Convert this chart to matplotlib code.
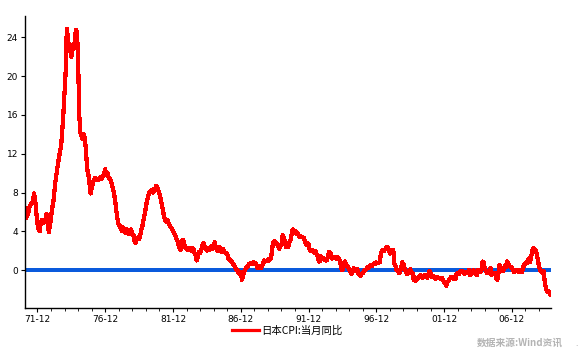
import numpy as np
import matplotlib
matplotlib.use('Agg')
import matplotlib.pyplot as plt

plt.rcParams['font.family'] = ['Noto Sans CJK SC', 'DejaVu Sans']

# Japan CPI yoy (%), monthly, Jan 1971 - Oct 2009
cpi_1971 = [6.4, 5.4, 5.6, 6.0, 6.5, 6.8, 6.9, 7.0, 7.9, 7.2, 6.0, 4.8]
cpi_1972 = [4.2, 4.0, 4.9, 5.2, 5.1, 4.9, 5.0, 5.8, 5.2, 3.9, 4.5, 5.4]
cpi_1973 = [6.4, 6.9, 8.0, 9.2, 10.0, 10.8, 11.6, 12.2, 12.8, 14.4, 16.2, 18.4]
cpi_1974 = [20.5, 24.9, 24.0, 22.6, 23.2, 22.0, 23.0, 22.8, 23.5, 24.8, 24.5, 21.8]
cpi_1975 = [16.0, 14.2, 13.8, 13.5, 14.0, 13.6, 12.3, 10.4, 10.0, 9.0, 7.9, 8.4]
cpi_1976 = [8.9, 9.3, 9.5, 9.3, 9.4, 9.3, 9.5, 9.6, 9.4, 9.7, 9.9, 10.4]
cpi_1977 = [9.8, 10.0, 9.6, 9.4, 9.2, 8.8, 8.4, 7.8, 7.0, 6.0, 5.2, 4.6]
cpi_1978 = [4.6, 4.2, 4.0, 4.4, 4.1, 3.8, 4.2, 4.0, 3.7, 3.9, 4.2, 3.7]
cpi_1979 = [3.6, 3.0, 2.8, 3.2, 3.4, 3.2, 3.6, 4.2, 4.6, 5.2, 5.8, 6.5]
cpi_1980 = [7.2, 7.6, 8.0, 8.1, 8.3, 8.0, 8.4, 8.2, 8.7, 8.6, 8.2, 7.9]
cpi_1981 = [7.4, 6.8, 6.2, 5.6, 5.2, 5.0, 5.2, 4.9, 4.6, 4.4, 4.3, 4.0]
cpi_1982 = [3.8, 3.6, 3.2, 3.0, 2.6, 2.2, 2.1, 3.0, 3.1, 2.6, 2.3, 2.2]
cpi_1983 = [2.1, 2.3, 2.2, 2.0, 2.3, 2.2, 1.8, 1.5, 1.0, 1.3, 1.9, 1.8]
cpi_1984 = [2.1, 2.6, 2.8, 2.4, 2.3, 2.0, 2.2, 2.1, 2.4, 2.5, 2.2, 2.6]
cpi_1985 = [2.9, 2.3, 2.0, 2.1, 2.4, 2.1, 1.9, 2.2, 2.0, 1.8, 1.8, 1.7]
cpi_1986 = [1.2, 1.1, 0.9, 0.9, 0.7, 0.5, 0.3, 0.1, 0.0, -0.3, -0.4, -0.2]
cpi_1987 = [-1.0, -0.6, -0.2, 0.1, 0.3, 0.3, 0.6, 0.7, 0.7, 0.6, 0.8, 0.8]
cpi_1988 = [0.7, 0.5, 0.2, 0.3, 0.4, 0.2, 0.5, 0.8, 1.0, 0.9, 1.0, 1.1]
cpi_1989 = [1.0, 1.1, 1.4, 2.4, 2.9, 3.0, 2.9, 2.7, 2.6, 2.2, 2.5, 2.6]
cpi_1990 = [3.6, 3.4, 3.0, 2.4, 2.5, 2.4, 2.9, 3.1, 3.7, 4.2, 3.9, 3.8]
cpi_1991 = [4.0, 3.7, 3.7, 3.4, 3.5, 3.4, 3.4, 3.3, 2.9, 2.6, 2.8, 2.7]
cpi_1992 = [2.1, 2.0, 2.1, 1.9, 1.8, 2.0, 1.7, 1.5, 0.9, 0.9, 1.4, 1.3]
cpi_1993 = [1.2, 1.2, 1.0, 1.0, 1.3, 1.9, 1.8, 1.6, 1.2, 1.3, 1.4, 1.2]
cpi_1994 = [1.2, 1.3, 1.2, 0.8, 0.1, 0.0, 0.5, 0.9, 0.6, 0.4, 0.3, 0.1]
cpi_1995 = [-0.2, -0.4, -0.1, 0.2, 0.0, -0.1, 0.1, -0.3, -0.5, -0.6, -0.4, -0.3]
cpi_1996 = [-0.1, 0.0, 0.1, 0.3, 0.2, 0.4, 0.5, 0.4, 0.6, 0.7, 0.6, 0.8]
cpi_1997 = [0.7, 0.8, 0.8, 1.7, 2.0, 2.1, 2.0, 2.2, 2.4, 2.4, 2.1, 1.7]
cpi_1998 = [1.8, 1.9, 2.1, 0.7, 0.4, 0.0, -0.1, -0.3, -0.2, 0.3, 0.8, 0.6]
cpi_1999 = [0.2, -0.1, -0.4, -0.1, -0.3, 0.1, -0.2, -0.3, -1.0, -0.7, -1.1, -0.9]
cpi_2000 = [-0.8, -0.6, -0.5, -0.7, -0.8, -0.6, -0.5, -0.6, -0.8, -0.5, -0.1, -0.3]
cpi_2001 = [-0.7, -0.6, -0.7, -0.9, -0.8, -0.7, -0.8, -0.8, -0.9, -0.8, -1.0, -1.2]
cpi_2002 = [-1.4, -1.6, -1.2, -1.1, -0.9, -0.7, -0.8, -0.9, -0.7, -0.9, -0.4, -0.3]
cpi_2003 = [-0.4, -0.2, -0.1, -0.1, -0.2, -0.4, -0.2, -0.3, -0.2, 0.0, -0.5, -0.4]
cpi_2004 = [-0.3, 0.0, -0.1, -0.4, -0.5, 0.0, -0.1, -0.2, 0.0, 0.9, 0.8, 0.2]
cpi_2005 = [-0.1, -0.3, -0.2, 0.0, 0.2, -0.5, -0.3, -0.3, -0.3, -0.8, -1.0, -0.4]
cpi_2006 = [0.5, -0.1, 0.2, -0.1, 0.1, 0.5, 0.3, 0.9, 0.6, 0.4, 0.3, 0.3]
cpi_2007 = [0.0, -0.2, -0.1, 0.0, 0.0, -0.2, 0.0, -0.2, -0.2, 0.3, 0.6, 0.7]
cpi_2008 = [0.7, 1.0, 1.2, 0.8, 1.3, 2.0, 2.3, 2.1, 2.1, 1.7, 1.0, 0.4]
cpi_2009 = [0.0, -0.1, -0.3, -0.1, -1.1, -1.8, -2.2, -2.2, -2.2, -2.5]

cpi = np.array(cpi_1971 + cpi_1972 + cpi_1973 + cpi_1974 + cpi_1975 + cpi_1976
               + cpi_1977 + cpi_1978 + cpi_1979 + cpi_1980 + cpi_1981 + cpi_1982
               + cpi_1983 + cpi_1984 + cpi_1985 + cpi_1986 + cpi_1987 + cpi_1988
               + cpi_1989 + cpi_1990 + cpi_1991 + cpi_1992 + cpi_1993 + cpi_1994
               + cpi_1995 + cpi_1996 + cpi_1997 + cpi_1998 + cpi_1999 + cpi_2000
               + cpi_2001 + cpi_2002 + cpi_2003 + cpi_2004 + cpi_2005 + cpi_2006
               + cpi_2007 + cpi_2008 + cpi_2009)
t = 1971 + np.arange(len(cpi)) / 12.0

xtick_labels = ['71-12', '76-12', '81-12', '86-12', '91-12', '96-12', '01-12', '06-12']
xtick_pos = [1971 + 11 / 12 + 5 * i for i in range(len(xtick_labels))]
ytick_vals = [0, 4, 8, 12, 16, 20, 24]

fig = plt.figure(figsize=(5.82, 3.51), dpi=100)
ax = fig.add_axes([25 / 582, 43 / 351, 526 / 582, 292 / 351])

ax.axhline(0, color='#0a5adc', lw=2.6, zorder=1, antialiased=False)
ax.plot(t, cpi, color='#ff0000', lw=2.3, label='日本CPI:当月同比', zorder=2,
        antialiased=False)

ax.set_xlim(1971.0, 2009.8)
ax.set_ylim(-3.9, 26.2)

ax.spines['top'].set_visible(False)
ax.spines['right'].set_visible(False)
ax.spines['left'].set_linewidth(1.0)
ax.spines['bottom'].set_linewidth(1.0)

ax.set_yticks(ytick_vals)
ax.set_yticklabels([str(v) for v in ytick_vals], fontsize=6.5, family=['DejaVu Sans'])
ax.set_xticks(xtick_pos)
ax.set_xticklabels(xtick_labels, fontsize=6.5, family=['DejaVu Sans'])
ax.set_xticks(np.arange(1972 + 11 / 12, 2009.8, 1.0), minor=True)
ax.tick_params(axis='y', length=3, width=0.8, pad=2)
ax.tick_params(axis='x', which='major', length=3, width=0.8, pad=2)
ax.tick_params(axis='x', which='minor', length=2, width=0.6)

fig.legend(loc='center', bbox_to_anchor=(287 / 582, 1 - 331 / 351), frameon=False,
           fontsize=7.5, handlelength=2.6, handletextpad=0.15)

fig.text(563 / 582, 1 - 343 / 351, '数据来源:Wind资讯', ha='right', va='center',
         fontsize=7, color='#b4b4b4', fontweight='bold')
fig.text(577 / 582, 1 - 343 / 351, '.', ha='center', va='center',
         fontsize=6, color='#9a9a9a')

fig.savefig('out.png', dpi=100)
